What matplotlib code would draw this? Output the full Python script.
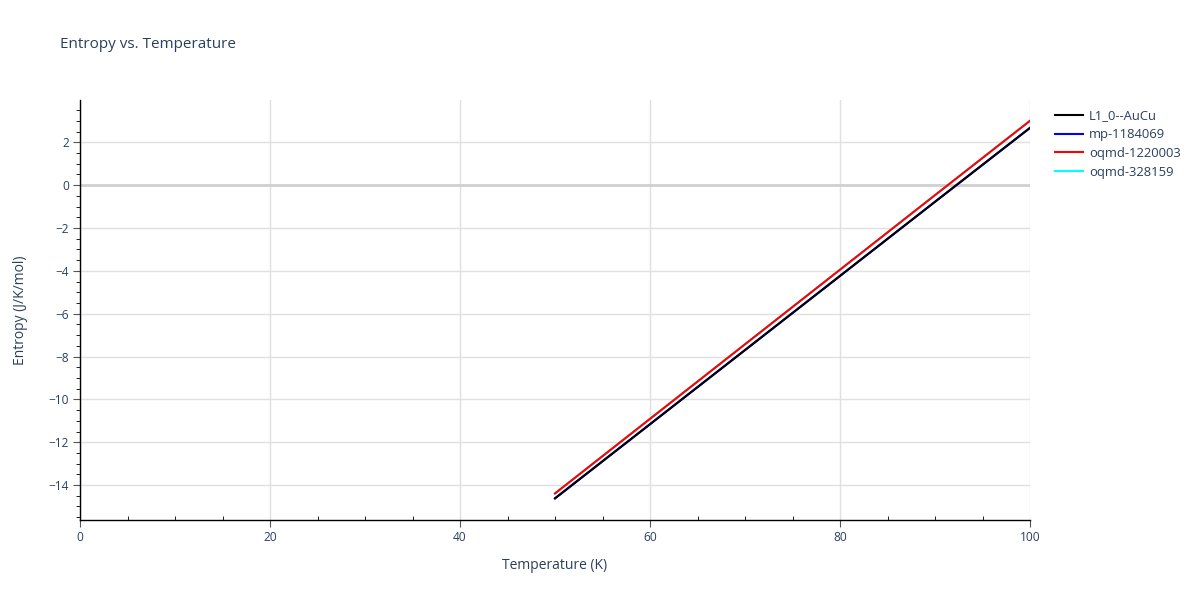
import matplotlib.pyplot as plt
from matplotlib.ticker import MultipleLocator
import numpy as np

# entropy curves (K, J/K/mol)
temps = [50, 60, 70, 80, 90, 100]
s_l10_aucu = [-14.62, -11.16, -7.70, -4.24, -0.78, 2.67]
s_mp_1184069 = [-14.62, -11.16, -7.70, -4.24, -0.78, 2.67]
s_oqmd_1220003 = [-14.39, -10.91, -7.43, -3.95, -0.47, 3.00]
s_oqmd_328159 = [-14.39, -10.91, -7.43, -3.95, -0.47, 3.00]

labels = ['L1_0--AuCu', 'mp-1184069', 'oqmd-1220003', 'oqmd-328159']
colors = ['black', 'blue', 'red', 'cyan']

plt.rcParams['font.family'] = ['Open Sans', 'DejaVu Sans']
txt = '#2a3f5f'

fig = plt.figure(figsize=(12, 6), dpi=100)
ax = fig.add_axes([80 / 1200, 80 / 600, 950 / 1200, 420 / 600])

series = [s_l10_aucu, s_mp_1184069, s_oqmd_1220003, s_oqmd_328159]
handles = []
for s, lab, c in zip(series, labels, colors):
    h, = ax.plot(temps, s, color=c, lw=1.5, label=lab)
    handles.append(h)
# keep cyan/blue hidden under red/black like the reference
handles[0].set_zorder(3)
handles[2].set_zorder(4)

ax.set_xlim(0, 100)
ax.set_ylim(-15.63, 3.97)
ax.xaxis.set_major_locator(MultipleLocator(20))
ax.xaxis.set_minor_locator(MultipleLocator(5))
ax.yaxis.set_major_locator(MultipleLocator(2))
ax.yaxis.set_minor_locator(MultipleLocator(0.5))

ax.grid(True, which='major', color='#e0e0e0', lw=1)
ax.axhline(0, color='#d0d0d0', lw=2, zorder=1)
ax.set_axisbelow(True)

for sp in ['top', 'right']:
    ax.spines[sp].set_visible(False)
for sp in ['left', 'bottom']:
    ax.spines[sp].set_color('black')
    ax.spines[sp].set_linewidth(1)

ax.tick_params(axis='both', which='major', direction='out', length=5,
               color='#555555', labelsize=8.6, labelcolor=txt, pad=3)
ax.tick_params(axis='y', which='minor', direction='out', length=3, color='black')
ax.tick_params(axis='x', which='minor', direction='in', length=3, color='black')

ax.set_xlabel('Temperature (K)', fontsize=10, color=txt, labelpad=10)
ax.set_ylabel('Entropy (J/K/mol)', fontsize=10, color=txt, labelpad=15)
fig.text(60 / 1200, 1 - 45 / 600, 'Entropy vs. Temperature', fontsize=11,
         color=txt, va='center', ha='left')

leg = fig.legend(handles=handles, loc='upper left',
                 bbox_to_anchor=(1050 / 1200, 1 - 104 / 600), frameon=False,
                 fontsize=9.4, handlelength=2.1, handletextpad=0.5,
                 labelspacing=0.45, borderaxespad=0)
for t in leg.get_texts():
    t.set_color(txt)

fig.savefig('out.png', dpi=100)
